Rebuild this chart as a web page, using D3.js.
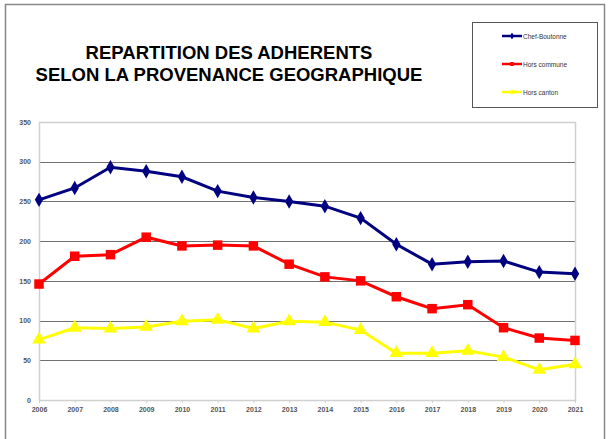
<!DOCTYPE html>
<html>
<head>
<meta charset="utf-8">
<script src="https://cdn.jsdelivr.net/npm/d3@7"></script>
<style>
  body { margin: 0; background: #fff; }
  svg { display: block; font-family: "Liberation Sans", Arial, sans-serif; }
</style>
</head>
<body>
<div id="chart"></div>
<script>
// data
const years = [2006, 2007, 2008, 2009, 2010, 2011, 2012, 2013, 2014, 2015, 2016, 2017, 2018, 2019, 2020, 2021];
const chefBoutonne = [252, 267, 293, 288, 281, 263, 255, 250, 244, 229, 196, 171, 174, 175, 161, 159];
const horsCommune = [146, 181, 183, 205, 194, 195, 194, 171, 155, 150, 130, 115, 120, 91, 78, 75];
const horsCanton = [76, 91, 90, 92, 99, 101, 90, 99, 98, 88, 59, 59, 62, 54, 38, 45];
const seriesNames = ["Chef-Boutonne", "Hors commune", "Hors canton"];
const yTicks = [0, 50, 100, 150, 200, 250, 300, 350];
const titleLines = ["REPARTITION DES ADHERENTS", "SELON LA PROVENANCE GEOGRAPHIQUE"];

const W = 610, H = 439;
const plot = { left: 39, right: 575, top: 122, bottom: 400 };

const series = [
  { name: seriesNames[0], values: chefBoutonne, color: "#000080", symbol: d3.symbolDiamond, size: 60 },
  { name: seriesNames[1], values: horsCommune, color: "#ff0000", symbol: d3.symbolSquare, size: 90 },
  { name: seriesNames[2], values: horsCanton, color: "#ffff00", symbol: d3.symbolTriangle, size: 80 }
];

const svg = d3.select("#chart").append("svg")
  .attr("width", W)
  .attr("height", H);

// outer frame
svg.append("rect")
  .attr("x", 5.5).attr("y", 4.5)
  .attr("width", 599).attr("height", 440)
  .attr("fill", "#fff")
  .attr("stroke", "#888")
  .attr("stroke-width", 1.5);

const x = d3.scaleLinear()
  .domain(d3.extent(years))
  .range([plot.left, plot.right]);

const y = d3.scaleLinear()
  .domain([0, 350])
  .range([plot.bottom, plot.top]);

// gridlines
svg.append("g")
  .selectAll("line")
  .data(yTicks.filter(t => t > 0 && t < 350))
  .join("line")
  .attr("x1", plot.left).attr("x2", plot.right)
  .attr("y1", d => Math.round(y(d)) + 0.5).attr("y2", d => Math.round(y(d)) + 0.5)
  .attr("stroke", "#707070")
  .attr("stroke-width", 1.2);

// plot border
svg.append("rect")
  .attr("x", plot.left + 0.5).attr("y", plot.top + 0.5)
  .attr("width", plot.right - plot.left).attr("height", plot.bottom - plot.top)
  .attr("fill", "none")
  .attr("stroke", "#d0d0d0")
  .attr("stroke-width", 1.5);

// axes
const yAxis = svg.append("g")
  .attr("transform", `translate(${plot.left},0)`)
  .call(d3.axisLeft(y).tickValues(yTicks).tickSize(0).tickPadding(8));
yAxis.select(".domain").remove();

const xAxis = svg.append("g")
  .attr("transform", `translate(0,${plot.bottom})`)
  .call(d3.axisBottom(x).tickValues(years).tickFormat(d3.format("d")).tickSize(3).tickPadding(4));
xAxis.select(".domain").remove();
xAxis.selectAll(".tick line").attr("stroke", "#d0d0d0");

svg.selectAll(".tick text")
  .attr("font-family", "'Liberation Sans', Arial, sans-serif")
  .attr("font-size", 7)
  .attr("font-weight", "bold")
  .attr("fill", "#555");

// lines and markers
const line = d3.line()
  .x((d, i) => x(years[i]))
  .y(d => y(d));

series.forEach(s => {
  svg.append("path")
    .datum(s.values)
    .attr("fill", "none")
    .attr("stroke", s.color)
    .attr("stroke-width", 3)
    .attr("d", line);

  svg.append("g")
    .selectAll("path")
    .data(s.values)
    .join("path")
    .attr("transform", (d, i) => `translate(${x(years[i])},${y(d)})`)
    .attr("d", d3.symbol().type(s.symbol).size(s.size))
    .attr("fill", s.color);
});

// title
svg.append("text")
  .attr("x", 229)
  .attr("y", 59)
  .attr("text-anchor", "middle")
  .attr("font-size", 18.5)
  .attr("font-weight", "bold")
  .attr("fill", "#000")
  .selectAll("tspan")
  .data(titleLines)
  .join("tspan")
  .attr("x", 229)
  .attr("dy", (d, i) => i === 0 ? 0 : 21.5)
  .text(d => d);

// legend
const legend = svg.append("g");
legend.append("rect")
  .attr("x", 472.5).attr("y", 22.5)
  .attr("width", 125).attr("height", 85)
  .attr("fill", "#fff")
  .attr("stroke", "#555")
  .attr("stroke-width", 1);

series.forEach((s, i) => {
  const ly = 36 + i * 28;
  legend.append("line")
    .attr("x1", 502).attr("x2", 522)
    .attr("y1", ly).attr("y2", ly)
    .attr("stroke", s.color)
    .attr("stroke-width", 2.5);
  legend.append("path")
    .attr("transform", `translate(512,${ly})`)
    .attr("d", d3.symbol().type(s.symbol).size(14))
    .attr("fill", s.color);
  legend.append("text")
    .attr("x", 523)
    .attr("y", ly + 2.5)
    .attr("font-size", 6.5)
    .attr("fill", "#333")
    .text(s.name);
});
</script>
</body>
</html>
